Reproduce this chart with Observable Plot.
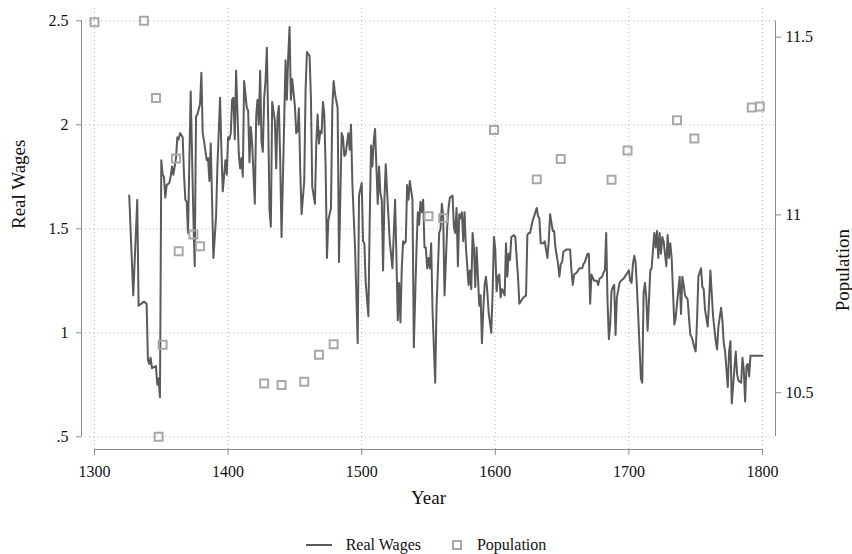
<!DOCTYPE html>
<html><head><meta charset="utf-8">
<script src="https://cdn.jsdelivr.net/npm/d3@7"></script>
<script src="https://cdn.jsdelivr.net/npm/@observablehq/plot@0.6"></script>
<style>
html,body{margin:0;padding:0;background:#fff;overflow:hidden;}
#legend{display:flex;justify-content:center;align-items:center;height:20px;margin-top:7px;font-family:"Liberation Serif","Times New Roman",serif;font-size:16px;color:#111;}
#legend .sw{display:block;}
</style></head><body><div id="chart"></div><div id="legend"></div>
<script>
// ---- Data ----
const wageYears = [1326,1329,1332,1333,1337,1339,1340,1341,1342,1343,1346,1347,1348,1349,1350,1351,1352,1353,1354,1356,1357,1358,1359,1361,1362,1363,1364,1366,1367,1368,1369,1370,1371,1372,1374,1375,1376,1377,1379,1380,1381,1382,1384,1385,1386,1387,1389,1391,1392,1394,1395,1396,1398,1399,1400,1401,1402,1403,1404,1405,1406,1408,1409,1410,1411,1412,1414,1415,1416,1417,1418,1420,1421,1422,1423,1424,1425,1426,1427,1428,1429,1430,1431,1432,1433,1435,1436,1437,1438,1439,1440,1442,1443,1444,1445,1446,1447,1448,1450,1451,1452,1453,1454,1455,1457,1458,1459,1461,1462,1463,1465,1466,1467,1468,1469,1470,1471,1472,1473,1474,1475,1477,1478,1479,1480,1482,1483,1485,1486,1487,1488,1490,1491,1492,1493,1495,1497,1498,1500,1501,1502,1503,1505,1506,1507,1508,1509,1510,1511,1512,1513,1514,1515,1516,1517,1518,1519,1520,1521,1523,1525,1526,1527,1528,1529,1530,1531,1532,1533,1534,1535,1536,1538,1539,1541,1542,1543,1544,1545,1546,1547,1548,1549,1550,1551,1552,1553,1555,1556,1558,1559,1560,1561,1562,1564,1565,1566,1568,1569,1570,1571,1572,1573,1574,1575,1576,1577,1578,1580,1581,1582,1583,1584,1585,1586,1588,1589,1590,1591,1592,1593,1594,1595,1597,1598,1599,1600,1601,1602,1603,1604,1605,1606,1607,1608,1609,1610,1611,1612,1614,1615,1616,1617,1618,1620,1621,1623,1624,1625,1626,1628,1629,1631,1632,1633,1634,1636,1637,1639,1640,1641,1643,1644,1645,1647,1648,1649,1650,1651,1653,1654,1656,1657,1658,1659,1661,1663,1665,1666,1667,1669,1670,1671,1672,1674,1675,1676,1677,1678,1680,1681,1682,1683,1684,1685,1686,1687,1688,1689,1690,1691,1693,1694,1696,1697,1699,1700,1701,1702,1703,1704,1705,1706,1707,1709,1710,1711,1712,1713,1714,1715,1716,1717,1719,1720,1721,1722,1723,1724,1725,1726,1728,1729,1730,1731,1732,1733,1734,1735,1736,1738,1739,1740,1741,1742,1744,1745,1746,1747,1749,1750,1751,1752,1754,1755,1756,1757,1759,1760,1761,1762,1763,1765,1766,1767,1769,1770,1771,1772,1774,1775,1776,1777,1779,1780,1781,1782,1784,1785,1786,1787,1788,1789,1790,1791,1800];
const wageValues = [1.66,1.18,1.64,1.13,1.15,1.14,0.87,0.85,0.88,0.83,0.84,0.75,0.78,0.69,1.83,1.76,1.75,1.65,1.71,1.72,1.75,1.80,1.76,1.84,1.94,1.93,1.96,1.94,1.76,1.64,1.63,1.48,1.83,2.16,1.56,1.32,2.04,2.05,2.10,2.25,1.96,1.92,1.83,1.84,1.73,1.91,1.36,1.56,1.80,2.13,1.88,1.68,1.83,1.76,1.94,1.93,1.96,2.12,2.13,1.93,2.26,1.86,1.79,1.84,1.75,2.21,2.08,2.07,1.82,1.99,1.91,1.62,2.04,2.12,2.00,2.26,1.92,1.87,2.13,2.21,2.37,2.02,1.59,1.51,2.11,2.02,1.79,2.04,2.09,1.83,1.46,2.02,2.31,2.12,2.33,2.47,2.12,2.22,2.09,1.96,1.97,2.08,1.78,1.57,1.73,2.17,2.35,2.33,2.13,1.70,1.62,1.91,2.05,1.91,1.97,1.96,2.11,2.05,1.80,1.36,1.54,1.60,2.08,2.21,2.15,2.08,1.34,1.96,1.94,1.85,1.86,1.96,1.88,2.00,1.72,1.41,0.95,1.66,1.72,1.44,1.43,1.24,1.08,1.54,1.90,1.80,1.92,1.98,1.80,1.62,1.80,1.67,1.64,1.30,1.64,1.81,1.68,1.56,1.44,1.31,1.64,1.36,1.06,1.24,1.05,1.31,1.44,1.43,1.44,1.71,1.64,1.73,1.64,0.93,1.40,1.58,1.52,1.63,1.58,1.64,1.41,1.41,1.31,1.36,1.31,1.43,1.11,0.76,1.12,1.48,1.50,1.62,1.56,1.18,1.51,1.60,1.65,1.66,1.51,1.48,1.60,1.32,1.57,1.55,1.58,1.44,1.58,1.41,1.23,1.30,1.21,1.48,1.41,1.22,1.41,1.13,1.18,0.95,1.11,1.23,1.27,1.20,1.10,1.00,1.20,1.46,1.40,1.20,1.27,1.28,1.17,1.21,1.20,1.18,1.43,1.27,1.38,1.35,1.46,1.47,1.46,1.36,1.27,1.14,1.16,1.17,1.18,1.47,1.48,1.48,1.54,1.56,1.60,1.56,1.55,1.43,1.43,1.44,1.36,1.44,1.57,1.49,1.49,1.41,1.33,1.27,1.33,1.34,1.39,1.40,1.40,1.40,1.30,1.23,1.28,1.29,1.31,1.31,1.33,1.34,1.38,1.38,1.14,1.28,1.25,1.25,1.25,1.23,1.26,1.27,1.29,1.30,1.48,1.15,0.97,1.04,1.20,1.22,1.23,0.99,1.17,1.24,1.25,1.26,1.27,1.29,1.30,1.25,1.24,1.33,1.37,1.34,1.22,1.08,0.78,0.76,1.19,1.24,1.17,1.01,1.15,1.30,1.31,1.48,1.41,1.49,1.36,1.48,1.38,1.46,1.44,1.32,1.47,1.36,1.43,1.36,1.20,1.04,1.07,1.14,1.27,1.09,1.27,1.23,1.18,1.16,1.07,0.99,0.98,0.93,0.91,1.06,1.27,1.31,1.22,1.21,1.11,1.03,1.15,1.30,1.19,1.08,0.96,0.92,1.03,1.12,1.06,0.95,0.91,0.74,0.91,0.96,0.66,0.83,0.91,0.80,0.77,0.76,0.88,0.82,0.67,0.84,0.85,0.79,0.89,0.89];

const popYears  = [1300,1337,1346,1348,1351,1361,1363,1374,1379,1427,1440,1457,1468,1479,1550,1561,1599,1631,1649,1687,1699,1736,1749,1792,1798];
const popValues = [11.542,11.546,11.329,10.376,10.635,11.159,10.898,10.945,10.912,10.526,10.522,10.531,10.607,10.636,10.996,10.991,11.239,11.100,11.157,11.099,11.181,11.266,11.215,11.302,11.305];

const xTicks    = [1300,1400,1500,1600,1700,1800];
const leftTicks = [0.5,1,1.5,2,2.5];
const popTicks  = [10.5,11,11.5];

// ---- Build ----
const wage = wageYears.map((y,i)=>({year:y, wage:wageValues[i]}));
const pop  = popYears.map((y,i)=>({year:y, pop:popValues[i]}));
const leftDomain = [d3.min(leftTicks), d3.max(leftTicks)];
// Right axis: population range mapped onto the wage range (as in a two-axis graph)
const toW = d3.scaleLinear(d3.extent(popValues), leftDomain);

const W = 852, H = 528;
const ML = 81, MR = 77, MT = 8, FB = 449;
const INX = 13, INT = 12.3, INB = 12.7;
const axisColor = "#8a8a8a";
const gridStyle = {stroke:"#b8b8b8", strokeOpacity:1, strokeDasharray:"1,3", strokeWidth:1};
const fmtLeft = d => String(d).replace(/^0\./, ".");
const fmtPop = w => String(Math.round(toW.invert(w)*10)/10);

const chart = Plot.plot({
  width: W, height: H,
  marginLeft: ML, marginRight: MR, marginTop: MT, marginBottom: H - FB,
  style: {fontFamily: '"Liberation Serif","Times New Roman",serif', fontSize: "16px", color: "#111", background: "#fff", overflow: "visible"},
  x: {domain: [d3.min(xTicks), d3.max(xTicks)], insetLeft: INX, insetRight: INX},
  y: {domain: leftDomain, insetTop: INT, insetBottom: INB},
  marks: [
    Plot.gridX(xTicks, gridStyle),
    Plot.gridY(leftTicks, gridStyle),
    Plot.ruleX([d3.min(xTicks)], {dx: -INX, y1: leftDomain[0], y2: leftDomain[1], stroke: axisColor}),
    Plot.ruleX([d3.max(xTicks)], {dx: INX, y1: leftDomain[0], y2: leftDomain[1], stroke: axisColor}),
    Plot.ruleY([leftDomain[0]], {dy: INB, x1: d3.min(xTicks), x2: d3.max(xTicks), stroke: axisColor}),
    Plot.axisX(xTicks, {anchor: "bottom", tickSize: 6, tickPadding: 10, label: null, stroke: axisColor, tickFormat: d => String(d)}),
    Plot.axisY(leftTicks, {anchor: "left", tickSize: 5, tickPadding: 8, label: null, stroke: axisColor, tickFormat: fmtLeft}),
    Plot.axisY(popTicks.map(p => toW(p)), {anchor: "right", tickSize: 5, tickPadding: 5, label: null, stroke: axisColor, tickFormat: fmtPop}),
    Plot.line(wage, {x: "year", y: "wage", stroke: "#5a5a5a", strokeWidth: 2}),
    Plot.dot(pop, {x: "year", y: d => toW(d.pop), symbol: "square", r: 4.5, stroke: "#a8a8a8", strokeWidth: 2, fill: "none"}),
    Plot.text(["Year"], {text: d => d, frameAnchor: "bottom", dy: 54, fontSize: 19, fill: "#111"}),
    Plot.text(["Real Wages"], {text: d => d, frameAnchor: "left", dx: -63, rotate: -90, fontSize: 19, fill: "#111"}),
    Plot.text(["Population"], {text: d => d, frameAnchor: "right", dx: 67, rotate: -90, fontSize: 19, fill: "#111"})
  ]
});
document.getElementById("chart").appendChild(chart);

// ---- Legend ----
const legend = document.getElementById("legend");
legend.innerHTML =
  '<svg class="sw" width="26" height="12" style="margin-right:14px"><line x1="0" y1="6" x2="26" y2="6" stroke="#5a5a5a" stroke-width="2"/></svg>' +
  '<span style="margin-right:31px">Real Wages</span>' +
  '<svg class="sw" width="10" height="10" style="margin-right:15px"><rect x="1" y="1" width="8" height="8" fill="none" stroke="#a8a8a8" stroke-width="2"/></svg>' +
  '<span>Population</span>';
</script></body></html>
